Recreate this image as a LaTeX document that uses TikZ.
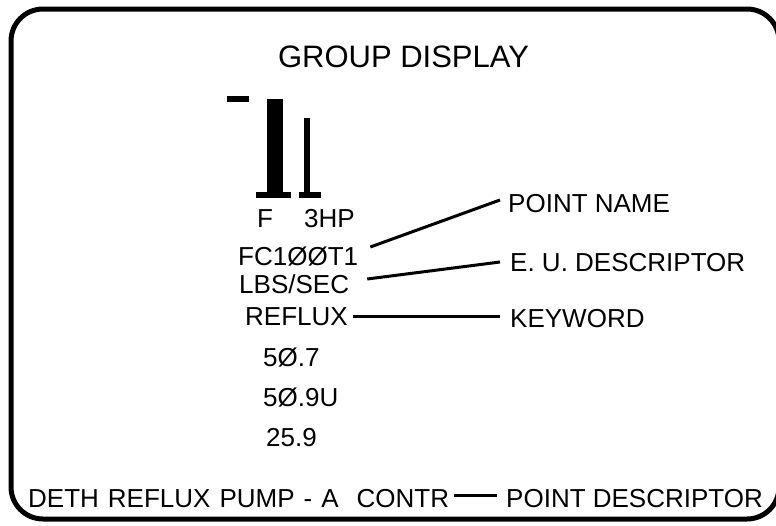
\documentclass[tikz,border=0pt]{standalone}
\usepackage{fontspec}
\setmainfont{Liberation Sans}
\begin{document}
\begin{tikzpicture}[x=1pt,y=-1pt,
  lbl/.style={inner sep=0pt,anchor=base west,font=\fontsize{26}{30}\selectfont},
  ttl/.style={inner sep=0pt,anchor=base,font=\fontsize{31}{36}\selectfont},
  lead/.style={line width=3pt},
  bar/.style={fill=black,draw=none}]
\useasboundingbox (0,0) rectangle (776,525);
% frame
\draw[line width=5pt,rounded corners=32pt] (11,9) rectangle (779,519);
% title
\node[ttl] (title) at (403.5,67) {GROUP DISPLAY};
% bar graph
\fill[bar] (227,96) rectangle (249,102);
\fill[bar] (267,99) rectangle (283,192);
\fill[bar] (256,192) rectangle (291,198);
\fill[bar] (304,118) rectangle (310,192);
\fill[bar] (299,192) rectangle (321,198);
% labels
\node[lbl] (f) at (257,227) {F};
\node[lbl] (hp) at (304,227) {3HP};
\node[lbl] (fc) at (238,265) {FC1ØØT1};
\node[lbl] (lbs) at (239,293) {LBS/SEC};
\node[lbl] (refl) at (245,325) {REFLUX};
\node[lbl] (v1) at (263,366) {5Ø.7};
\node[lbl] (v2) at (263,406) {5Ø.9U};
\node[lbl] (v3) at (266,446) {25.9};
\node[lbl] (pn) at (508,212) {POINT NAME};
\node[lbl] (eu) at (510,271) {E. U. DESCRIPTOR};
\node[lbl] (kw) at (510,327) {KEYWORD};
\node[lbl] (desc) at (28,507) {\spaceskip=9pt DETH REFLUX PUMP - A\ \ CONTR};
\node[lbl] (pd) at (506,507) {POINT DESCRIPTOR};
% leaders
\draw[lead] ([xshift=12pt,yshift=18pt]fc.base east) -- ([xshift=-8pt,yshift=12pt]pn.base west);
\draw[lead] ([xshift=18pt,yshift=14pt]lbs.base east) -- ([xshift=-10pt,yshift=9pt]eu.base west);
\draw[lead] ([xshift=5pt,yshift=9pt]refl.base east) -- ([xshift=-10pt,yshift=11pt]kw.base west);
\draw[lead] ([xshift=5pt,yshift=12pt]desc.base east) -- ([xshift=-9pt,yshift=12pt]pd.base west);
\end{tikzpicture}
\end{document}
